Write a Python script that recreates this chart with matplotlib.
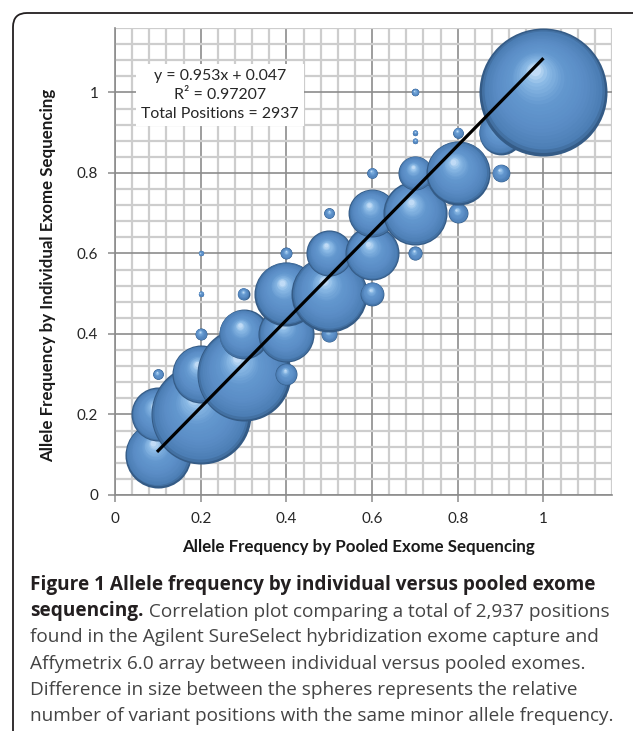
import matplotlib
matplotlib.use('Agg')
import matplotlib.pyplot as plt
import numpy as np
from matplotlib.colors import LinearSegmentedColormap
from matplotlib.patches import FancyBboxPatch
from matplotlib.ticker import MultipleLocator, FuncFormatter
from matplotlib.transforms import ScaledTranslation

# ─── Data ───────────────────────────────────────────────────────────
# pooled AF (x), individual AF (y), number of positions (bubble area)
pooled = [0.1, 0.1, 0.1,
          0.2, 0.2, 0.2, 0.2, 0.2,
          0.3, 0.3, 0.3,
          0.4, 0.4, 0.4, 0.4,
          0.5, 0.5, 0.5, 0.5,
          0.6, 0.6, 0.6, 0.6,
          0.7, 0.7, 0.7, 0.7, 0.7, 0.7,
          0.8, 0.8, 0.8,
          0.9, 0.9,
          1.0]
individual = [0.1, 0.2, 0.3,
              0.2, 0.3, 0.4, 0.5, 0.6,
              0.3, 0.4, 0.5,
              0.3, 0.4, 0.5, 0.6,
              0.4, 0.5, 0.6, 0.7,
              0.5, 0.6, 0.7, 0.8,
              0.6, 0.7, 0.8, 0.88, 0.9, 1.0,
              0.7, 0.8, 0.9,
              0.8, 0.9,
              1.0]
positions = [154, 103, 4,
             353, 119, 5, 1, 1,
             312, 88, 5,
             17, 111, 145, 5,
             9, 204, 75, 4,
             20, 103, 81, 4,
             7, 145, 41, 1, 1, 2,
             14, 145, 4,
             11, 68,
             578]

# trend line end points as drawn
trend_x = [0.098, 1.0]
trend_y = [0.107, 1.085]

box_lines = ['y = 0.953x + 0.047', 'R² = 0.97207', 'Total Positions = 2937']

caption_bold = 'Figure 1 Allele frequency by individual versus pooled exome'
caption_lines = ['found in the Agilent SureSelect hybridization exome capture and',
                 'Affymetrix 6.0 array between individual versus pooled exomes.',
                 'Difference in size between the spheres represents the relative',
                 'number of variant positions with the same minor allele frequency.']

DPI = 100
fig = plt.figure(figsize=(6.33, 7.31), dpi=DPI)
fig.patch.set_facecolor('white')

# rounded frame, open at right and bottom
frame = FancyBboxPatch((0.13, -1.0), 8.0, 7.31 - 0.13 + 1.0,
                       boxstyle='round,pad=0,rounding_size=0.14',
                       transform=fig.dpi_scale_trans, fill=False,
                       edgecolor='#231f20', linewidth=1.3)
fig.add_artist(frame)

ax = fig.add_axes([115 / 633, 236 / 731, 497 / 633, 467 / 731])
ax.set_xlim(0, 1.16)
ax.set_ylim(0, 1.16)

ax.xaxis.set_major_locator(MultipleLocator(0.2))
ax.yaxis.set_major_locator(MultipleLocator(0.2))
ax.xaxis.set_minor_locator(MultipleLocator(0.04))
ax.yaxis.set_minor_locator(MultipleLocator(0.04))
fmt = FuncFormatter(lambda v, p: '%g' % round(v, 2) if v <= 1.0001 else '')
ax.xaxis.set_major_formatter(fmt)
ax.yaxis.set_major_formatter(fmt)

ax.grid(which='minor', color='#cdcdcd', linewidth=1.6, zorder=0)
ax.grid(which='major', color='#8c8c8c', linewidth=1.2, zorder=0)
ax.set_axisbelow(True)
for s in ['top', 'right']:
    ax.spines[s].set_visible(False)
for s in ['left', 'bottom']:
    ax.spines[s].set_color('#8c8c8c')
    ax.spines[s].set_linewidth(1.2)
ax.tick_params(which='major', direction='out', length=5, width=1.1, color='#8c8c8c',
               labelsize=11, labelcolor='#262626', pad=7)
ax.tick_params(which='minor', length=0)
for lab in ax.get_xticklabels() + ax.get_yticklabels():
    lab.set_family('Lato')

# ─── 3D-looking spheres ─────────────────────────────────────────────
sphere = LinearSegmentedColormap.from_list(
    'sphere', [(0.0, '#345b86'), (0.06, '#4b7db3'), (0.3, '#5a8cc5'),
               (0.6, '#6398cf'), (0.85, '#8cbbe6'), (1.0, '#d2e7fb')])
R_MAX = 64.0  # pixel radius of largest bubble
N = 24
cmax = max(positions)
for i, (x, y, c) in enumerate(zip(pooled, individual, positions)):
    r = R_MAX * np.sqrt(c / cmax)
    for k in range(N):
        t = k / N
        rr = r * (1 - 0.95 * t)
        dx = -0.14 * r * t / DPI
        dy = 0.36 * r * t / DPI
        tr = ax.transData + ScaledTranslation(dx, dy, fig.dpi_scale_trans)
        ax.scatter([x], [y], s=(2 * rr * 72 / DPI) ** 2, color=sphere(t),
                   linewidths=0, transform=tr, zorder=2 + i * 0.01)

ax.plot(trend_x, trend_y, color='black', linewidth=2.3, zorder=5, solid_capstyle='butt')

ax.text((220 - 115) / 497, (495 - 95) / 467, '\n'.join(box_lines), transform=ax.transAxes,
        ha='center', va='center', fontsize=11.4, family='Lato', color='#262626',
        linespacing=1.45, zorder=6,
        bbox=dict(boxstyle='square,pad=0.35', facecolor='white', edgecolor='none'))

ax.set_xlabel('Allele Frequency by Pooled Exome Sequencing', fontsize=12.2,
              fontweight='bold', family='Lato', color='#1a1a1a', va='center')
ax.xaxis.set_label_coords((358.5 - 115) / 497, (495 - 547) / 467)
ax.set_ylabel('Allele Frequency by Individual Exome Sequencing', fontsize=12.2,
              fontweight='bold', family='Lato', color='#1a1a1a', va='center')
ax.yaxis.set_label_coords((48.5 - 115) / 497, (495 - 275) / 467)

# ─── Caption ────────────────────────────────────────────────────────
cap_x = 30 / 633
y0 = 585
step = 26.2
fs = 13.7
fig.text(cap_x, 1 - y0 / 731, caption_bold, fontsize=fs, fontweight='bold',
         family='Open Sans', color='#231f20', va='center', ha='left')
tb = fig.text(cap_x, 1 - (y0 + step) / 731, 'sequencing.', fontsize=fs, fontweight='bold',
              family='Open Sans', color='#231f20', va='center', ha='left')
ov = fig.add_axes([0, 0, 1, 1])
ov.axis('off')
ov.annotate(' Correlation plot comparing a total of 2,937 positions', xy=(1, 0), xycoords=tb,
            fontsize=fs, family='Open Sans', color='#444444', va='bottom', ha='left')
for j, line in enumerate(caption_lines):
    fig.text(cap_x, 1 - (y0 + step * (j + 2)) / 731, line, fontsize=fs,
             family='Open Sans', color='#444444', va='center', ha='left')

fig.savefig('out.png', dpi=DPI, facecolor='white')
